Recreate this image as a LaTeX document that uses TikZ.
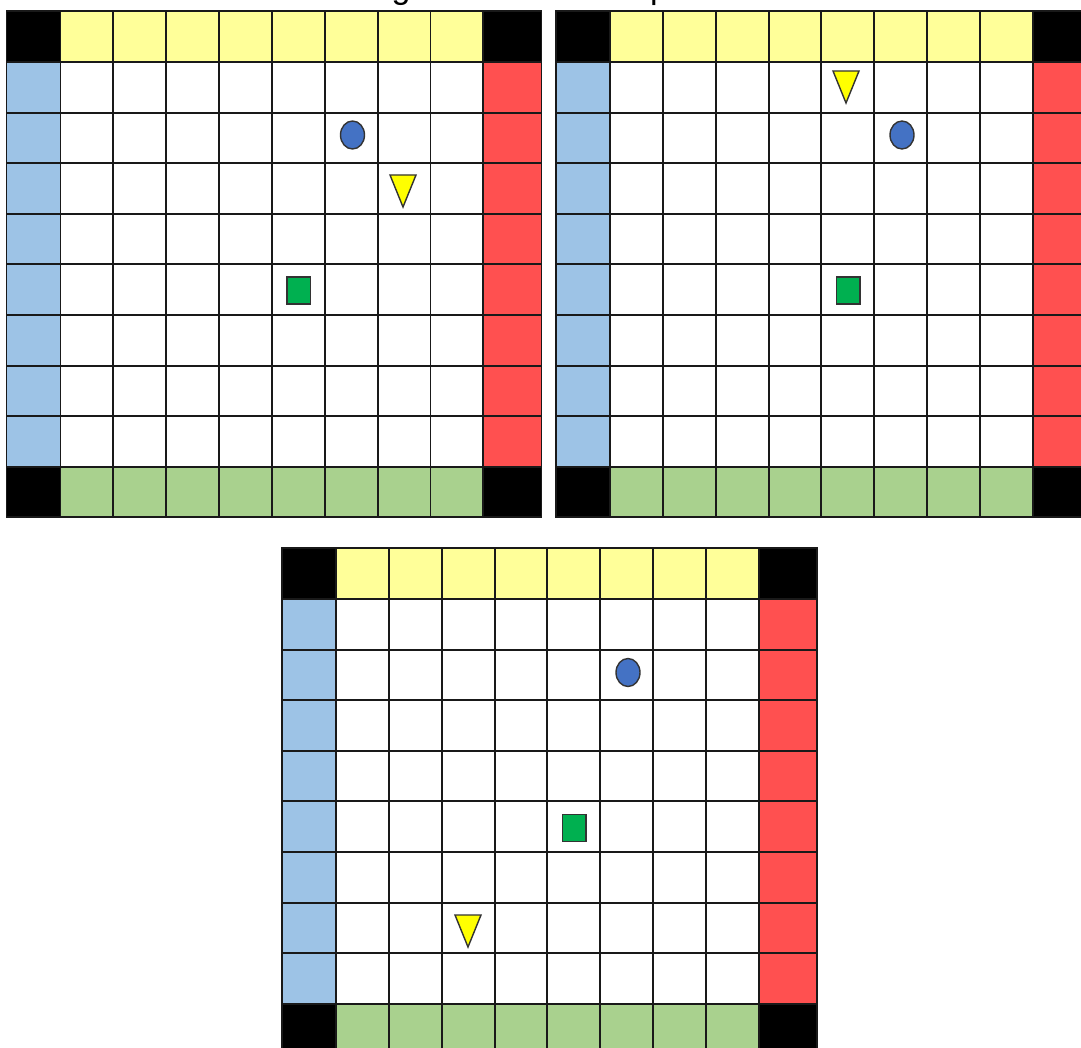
\documentclass[tikz,border=0pt]{standalone}
\usepackage{fontspec}
\setmainfont{Liberation Sans}
\usetikzlibrary{shapes.geometric}
\definecolor{cyel}{HTML}{FFFF99}
\definecolor{cgrn}{HTML}{A9D18E}
\definecolor{cblu}{HTML}{9DC3E6}
\definecolor{cred}{HTML}{FF5050}
\definecolor{cball}{HTML}{4472C4}
\definecolor{cbox}{HTML}{00B050}
\definecolor{ctri}{HTML}{FFFF00}
\newcommand\boardat[2]{%
  \begin{scope}[shift={(#1,#2)}]
    \fill[white] (0,0) rectangle (535,506);
    \fill[black] (0,0) rectangle (54,51);
    \fill[black] (476.8,0) rectangle (535,51);
    \fill[black] (0,455.8) rectangle (54,506);
    \fill[black] (476.8,455.8) rectangle (535,506);
    \fill[cyel] (54,0) rectangle (476.8,51);
    \fill[cgrn] (54,455.8) rectangle (476.8,506);
    \fill[cblu] (0,51) rectangle (54,455.8);
    \fill[cred] (476.8,51) rectangle (535,455.8);
    \foreach \k in {0,...,8} \draw[gridline] ({54+\k*52.85},0) -- ({54+\k*52.85},506);
    \foreach \k in {0,...,8} \draw[gridline] (0,{51+\k*50.6}) -- (535,{51+\k*50.6});
    \draw[gridline] (0,0) rectangle (535,506);
  \end{scope}}
\begin{document}
\begin{tikzpicture}[x=1pt,y=-1pt,
  gridline/.style={line width=1.9pt,black!90},
  ball/.style={ellipse,draw=black!80,line width=1.4pt,fill=cball,minimum width=24pt,minimum height=28pt,inner sep=0pt},
  box/.style={rectangle,draw=black!80,line width=1.4pt,fill=cbox,minimum width=23.6pt,minimum height=27pt,inner sep=0pt},
  tri/.style={draw=black!80,line width=1.4pt,fill=ctri,line join=miter},
  title/.style={font=\fontsize{34}{40}\selectfont,inner sep=0pt}]
\clip (0,0) rectangle (1081,1048);
\fill[white] (0,0) rectangle (1081,1048);
% cut-off title fragments, as in the reference
\node[title,anchor=base] (tg) at (401,-1.5) {g};
\node[title,anchor=base west] (tp) at (650,-1.5) {p};
% board 1
\boardat{6.5}{11}
\node[ball] (ball1) at (352.5,135) {};
\node[box] (box1) at (298.8,290.5) {};
\draw[tri] (390,175) -- (416,175) -- (403,207) -- cycle;
% board 2
\boardat{556}{11}
\node[ball] (ball2) at (902,135) {};
\node[box] (box2) at (848.3,290.5) {};
\draw[tri] (833,71) -- (859,71) -- (846,103) -- cycle;
% board 3
\boardat{282}{548}
\node[ball] (ball3) at (628,672.5) {};
\node[box] (box3) at (574.3,828) {};
\draw[tri] (455,915) -- (481,915) -- (468,947) -- cycle;
\end{tikzpicture}
\end{document}
